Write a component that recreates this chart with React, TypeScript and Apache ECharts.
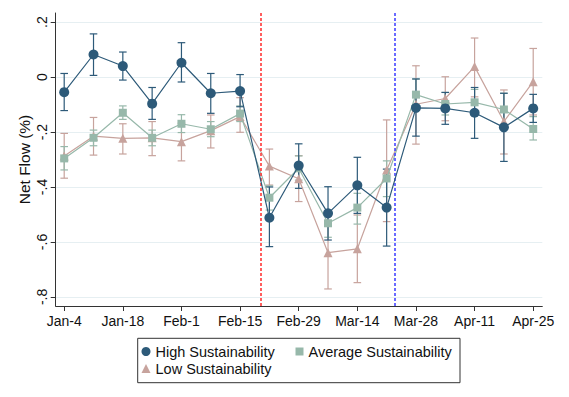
import React, { useEffect, useRef } from "react";
import * as echarts from "echarts";

const weeks = ["Jan-4","Jan-11","Jan-18","Jan-25","Feb-1","Feb-8","Feb-15","Feb-22","Feb-29","Mar-7","Mar-14","Mar-21","Mar-28","Apr-4","Apr-11","Apr-18","Apr-25"];
const tickLabels = ["Jan-4","Jan-18","Feb-1","Feb-15","Feb-29","Mar-14","Mar-28","Apr-11","Apr-25"];
const xTickWeeks = [0, 2, 4, 6, 8, 10, 12, 14, 16];
const yTicks = [-0.8, -0.6, -0.4, -0.2, 0, 0.2];
const eventWeeks = [6.71, 11.29]; // Feb-20, Mar-23

const highMean = [-0.055,0.082,0.040,-0.097,0.052,-0.059,-0.051,-0.512,-0.322,-0.496,-0.394,-0.475,-0.112,-0.114,-0.130,-0.183,-0.114];
const highLo = [-0.122,0.006,-0.011,-0.154,-0.018,-0.132,-0.108,-0.617,-0.405,-0.593,-0.496,-0.615,-0.215,-0.172,-0.223,-0.307,-0.165];
const highHi = [0.013,0.157,0.091,-0.038,0.125,0.013,0.009,-0.400,-0.243,-0.399,-0.292,-0.335,-0.007,-0.056,-0.038,-0.059,-0.063];

const avgMean = [-0.296,-0.221,-0.130,-0.221,-0.170,-0.190,-0.133,-0.439,-0.332,-0.532,-0.475,-0.369,-0.064,-0.098,-0.092,-0.118,-0.189];
const avgLo = [-0.338,-0.250,-0.154,-0.250,-0.202,-0.217,-0.162,-0.484,-0.375,-0.583,-0.535,-0.435,-0.120,-0.138,-0.138,-0.175,-0.229];
const avgHi = [-0.253,-0.193,-0.105,-0.193,-0.137,-0.162,-0.105,-0.396,-0.287,-0.502,-0.423,-0.305,-0.007,-0.056,-0.045,-0.059,-0.144];

const lowMean = [-0.287,-0.215,-0.223,-0.221,-0.235,-0.195,-0.144,-0.324,-0.370,-0.639,-0.625,-0.338,-0.099,-0.078,0.038,-0.162,-0.017];
const lowLo = [-0.368,-0.284,-0.280,-0.286,-0.305,-0.258,-0.201,-0.393,-0.453,-0.771,-0.748,-0.526,-0.244,-0.159,-0.072,-0.280,-0.138];
const lowHi = [-0.205,-0.147,-0.170,-0.162,-0.168,-0.138,-0.075,-0.262,-0.286,-0.507,-0.502,-0.156,0.041,0.001,0.142,-0.047,0.104];

const FONT = "'Liberation Sans', Arial, sans-serif";
const C_HIGH = "#2d5a79";
const C_AVG = "#97b8aa";
const C_LOW = "#c7a39d";

function fmtY(v: number) {
  if (Math.abs(v) < 1e-9) return "0";
  const s = Math.abs(v).toFixed(1).replace(/^0/, "");
  return (v < 0 ? "-" : "") + s;
}

function errorSeries(name: string, lo: number[], hi: number[], color: string) {
  return {
    type: "custom",
    name: name + " CI",
    data: weeks.map((_, i) => [i, lo[i], hi[i]]),
    encode: { x: 0, y: [1, 2] },
    z: 2,
    renderItem: (params: any, api: any) => {
      const x = api.value(0);
      const pLo = api.coord([x, api.value(1)]);
      const pHi = api.coord([x, api.value(2)]);
      const hw = 3.8;
      const style = { stroke: color, lineWidth: 1.2 };
      return {
        type: "group",
        children: [
          { type: "line", shape: { x1: pLo[0], y1: pLo[1], x2: pHi[0], y2: pHi[1] }, style },
          { type: "line", shape: { x1: pLo[0] - hw, y1: pLo[1], x2: pLo[0] + hw, y2: pLo[1] }, style },
          { type: "line", shape: { x1: pHi[0] - hw, y1: pHi[1], x2: pHi[0] + hw, y2: pHi[1] }, style },
        ],
      };
    },
  };
}

function lineSeries(name: string, mean: number[], color: string, symbol: string, size: number, z: number) {
  return {
    type: "line",
    name,
    data: weeks.map((_, i) => [i, mean[i]]),
    symbol,
    symbolSize: size,
    showSymbol: true,
    z,
    itemStyle: { color },
    lineStyle: { color, width: 1.2 },
  };
}

export default function App() {
  const ref = useRef<HTMLDivElement>(null);
  useEffect(() => {
    if (!ref.current) return;
    const chart = echarts.init(ref.current, undefined, { renderer: "svg" });
    const legendCommon = {
      itemWidth: 9,
      itemHeight: 9,
      textStyle: { fontFamily: FONT, fontSize: 14.5, color: "#111" },
      padding: 0,
      selectedMode: false,
    };
    chart.setOption({
      animation: false,
      backgroundColor: "#ffffff",
      textStyle: { fontFamily: FONT },
      grid: { left: 55.7, right: 26.7, top: 13, bottom: 91 },
      legend: [
        { ...legendCommon, left: 141.5, top: 344, data: [{ name: "High Sustainability", icon: "circle" }] },
        { ...legendCommon, left: 295.5, top: 344, itemWidth: 8, itemHeight: 8, data: [{ name: "Average Sustainability", icon: "rect" }] },
        { ...legendCommon, left: 141.5, top: 361, data: [{ name: "Low Sustainability", icon: "triangle" }] },
      ],
      xAxis: {
        type: "value",
        min: -0.29,
        max: 16.31,
        axisLine: { show: true, onZero: false, lineStyle: { color: "#333", width: 1 } },
        axisTick: { show: true, length: 5, customValues: xTickWeeks, lineStyle: { color: "#333" } },
        axisLabel: {
          customValues: xTickWeeks,
          formatter: (v: number) => tickLabels[xTickWeeks.indexOf(Math.round(v))] ?? "",
          fontFamily: FONT,
          fontSize: 14,
          color: "#111",
          margin: 8,
        },
        splitLine: { show: false },
      },
      yAxis: {
        type: "value",
        min: -0.833,
        max: 0.233,
        name: "Net Flow (%)",
        nameLocation: "middle",
        nameGap: 23,
        nameMoveOverlap: false,
        nameTextStyle: { fontFamily: FONT, fontSize: 15.5, color: "#111" },
        axisLine: { show: true, onZero: false, lineStyle: { color: "#333", width: 1 } },
        axisTick: { show: true, length: 5, customValues: yTicks, lineStyle: { color: "#333" } },
        axisLabel: {
          customValues: yTicks,
          formatter: (v: number) => fmtY(v),
          rotate: 90,
          fontFamily: FONT,
          fontSize: 14,
          color: "#111",
          margin: 7,
        },
        splitLine: { show: true, lineStyle: { color: "#e6eff2", width: 1 } },
      },
      graphic: [
        {
          type: "rect",
          shape: { x: 137.7, y: 338.3, width: 322.3, height: 44.4 },
          style: { fill: "none", stroke: "#333", lineWidth: 1 },
          silent: true,
        },
      ],
      series: [
        errorSeries("Low Sustainability", lowLo, lowHi, C_LOW),
        errorSeries("Average Sustainability", avgLo, avgHi, C_AVG),
        errorSeries("High Sustainability", highLo, highHi, C_HIGH),
        lineSeries("Low Sustainability", lowMean, C_LOW, "triangle", 9, 3),
        lineSeries("Average Sustainability", avgMean, C_AVG, "rect", 8, 4),
        {
          ...lineSeries("High Sustainability", highMean, C_HIGH, "circle", 10, 5),
          markLine: {
            silent: true,
            symbol: ["none", "none"],
            label: { show: false },
            data: [
              { xAxis: eventWeeks[0], lineStyle: { color: "#ff2a2a", type: [3, 2], width: 1.5 } },
              { xAxis: eventWeeks[1], lineStyle: { color: "#3b3bff", type: [3, 2], width: 1.5 } },
            ],
          },
        },
      ],
    });
    return () => chart.dispose();
  }, []);
  return <div ref={ref} style={{ width: 569, height: 397, position: "absolute", left: 0, top: 0 }} />;
}
